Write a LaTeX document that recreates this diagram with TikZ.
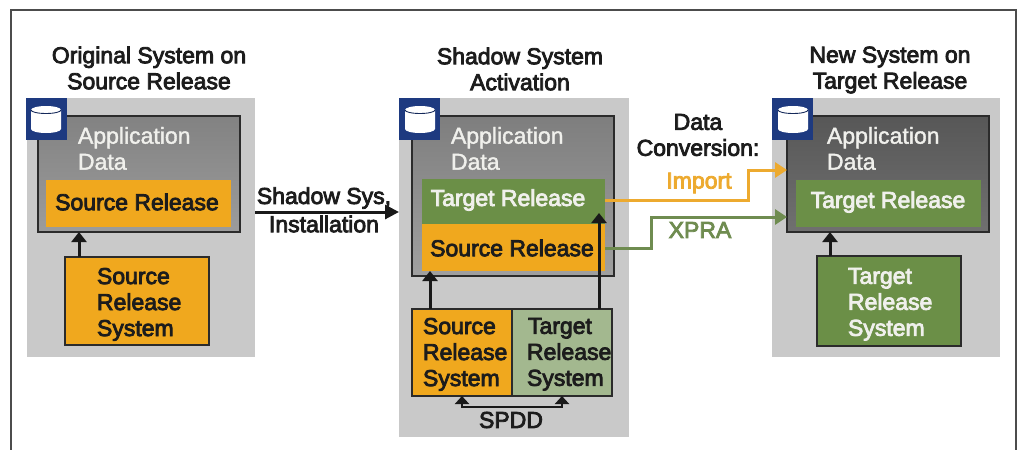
\documentclass[tikz,border=0pt]{standalone}
\usepackage{fontspec}
\setmainfont[FakeBold=3.5]{Liberation Sans}
\newfontfamily\lightfont[FakeBold=1.6]{Liberation Sans}
\usetikzlibrary{arrows.meta,calc}
\definecolor{panelgray}{HTML}{C9C9C9}
\definecolor{orangebox}{HTML}{F0A81E}
\definecolor{greenbox}{HTML}{6B8F47}
\definecolor{palegreen}{HTML}{A3B88F}
\definecolor{navyicon}{HTML}{1E3A80}
\definecolor{importline}{HTML}{EDAA2F}
\definecolor{xpraline}{HTML}{6F8C50}
\definecolor{edgedark}{HTML}{2B2B2B}
\definecolor{appA}{HTML}{9C9C9C}
\definecolor{appAt}{HTML}{828282}
\definecolor{appB}{HTML}{A0A0A0}
\definecolor{appBt}{HTML}{7E7E7E}
\definecolor{appC}{HTML}{707070}
\definecolor{appCt}{HTML}{575757}
\definecolor{softwhite}{HTML}{F0F0EC}
\definecolor{softblack}{HTML}{1C1C1C}
\newcommand{\boxat}[6][]{\node[#2,minimum width=#5-#3,minimum height=#6-#4,anchor=north west,#1] at (#3,#4) {};}
\tikzset{
  x=1pt,y=-1pt,
  every node/.style={inner sep=0pt,outer sep=0pt},
  panel/.style={fill=panelgray,draw=none,rectangle},
  iconbox/.style={fill=navyicon,draw=none,rectangle,minimum width=41,minimum height=42,anchor=north west},
  appgrayA/.style={rectangle,draw=edgedark,line width=1.6pt,top color=appAt,bottom color=appA},
  appgrayB/.style={rectangle,draw=edgedark,line width=1.6pt,top color=appBt,bottom color=appB},
  appgrayC/.style={rectangle,draw=edgedark,line width=1.6pt,top color=appCt,bottom color=appC},
  orangefill/.style={rectangle,fill=orangebox,draw=none},
  greenfill/.style={rectangle,fill=greenbox,draw=none},
  orangesys/.style={rectangle,fill=orangebox,draw=edgedark,line width=1.6pt},
  greensys/.style={rectangle,fill=greenbox,draw=edgedark,line width=1.6pt},
  palesys/.style={rectangle,fill=palegreen,draw=edgedark,line width=1.6pt},
  darklab/.style={font=\fontsize{23}{26}\selectfont,align=left,text=softblack},
  lightlab/.style={font=\fontsize{23}{26}\selectfont,align=left,text=softwhite},
  colorlab/.style={font=\fontsize{23}{26}\selectfont,align=left,text=#1},
  titlelab/.style={font=\fontsize{23}{26}\selectfont,align=center,text=softblack},
  blackarrow/.style={line width=3pt,draw=black!90,-{Triangle[length=10pt,width=15pt]}},
  colorarrow/.style={line width=3pt,draw=#1,-{Triangle[length=12pt,width=15pt]}},
}
\newcommand{\dbicon}[2]{%
  \fill[white] (#1-15,#2-9) -- (#1-15,#2+10) arc[start angle=180,end angle=360,x radius=15,y radius=-4] -- (#1+15,#2-9) arc[start angle=0,end angle=180,x radius=15,y radius=-4] -- cycle;
  \draw[navyicon!70!black,line width=0.9pt] (#1-15,#2-9) arc[start angle=180,end angle=360,x radius=15,y radius=-3.5];
}
\begin{document}
\begin{tikzpicture}
\useasboundingbox (0,0) rectangle (1021,450);
\fill[white] (0,0) rectangle (1021,450);
% frame
\draw[black!70,line width=1.6pt] (11,450) -- (11,10) -- (1016,10) -- (1016,450);
% panels
\boxat[name=pL]{panel}{27}{98}{255}{357}
\boxat[name=pM]{panel}{399}{98}{629}{437}
\boxat[name=pR]{panel}{772}{98}{1000}{357}
% app boxes
\boxat[name=appL]{appgrayA}{38}{116}{240}{232}
\boxat[name=appM]{appgrayB}{412}{116}{614}{276}
\boxat[name=appR]{appgrayC}{787}{116}{989}{232}
% icons
\node[iconbox] (iconL) at (26,98) {};
\node[iconbox] (iconM) at (399,98) {};
\node[iconbox] (iconR) at (772,98) {};
\dbicon{46}{119}
\dbicon{420}{119}
\dbicon{793}{119}
% release bars
\boxat[name=relL]{orangefill}{46}{180}{231}{227}
\boxat[name=relMt]{greenfill}{422}{179}{605}{224}
\boxat[name=relMs]{orangefill}{422}{224}{605}{271}
\boxat[name=relR]{greenfill}{796}{180}{981}{227}
% system boxes
\boxat[name=sysL]{orangesys}{65}{257}{209}{345}
\boxat[name=sysMs]{orangesys}{412}{309}{512}{396}
\boxat[name=sysMt]{palesys}{512}{309}{612}{396}
\boxat[name=sysR]{greensys}{817}{256}{961}{346}
% titles
\node[titlelab] (tL) at (149,68) {Original System on\\Source Release};
\node[titlelab] (tM) at (520,69) {Shadow System\\Activation};
\node[titlelab] (tR) at (890,70) {New System on\\Target Release};
% application data
\node[lightlab,anchor=north west] (adL) at (78,127) {\lightfont Application\\\lightfont Data};
\node[lightlab,anchor=north west] (adM) at (451,127) {\lightfont Application\\\lightfont Data};
\node[lightlab,anchor=north west] (adR) at (827,127) {\lightfont Application\\\lightfont Data};
% release labels
\node[darklab] (lrL) at (137,202) {Source Release};
\node[lightlab] (lrMt) at (508,200) {Target Release};
\node[darklab] (lrMs) at (512,248) {Source Release};
\node[lightlab] (lrR) at (888,202) {Target Release};
% system labels
\node[darklab,anchor=north west] (lsL) at (97,268) {Source\\Release\\System};
\node[darklab,anchor=north west] (lsMs) at (423,318) {Source\\Release\\System};
\node[darklab,anchor=north west] (lsMt) at (527,318) {\hspace*{1pt}Target\\Release\\System};
\node[lightlab,anchor=north west] (lsR) at (848,268) {Target\\Release\\System};
% black arrows
\draw[blackarrow] ([xshift=14]sysL.north west) -- ([xshift=14]sysL.north west |- appL.south);
\draw[blackarrow] ([xshift=13]sysR.north west) -- ([xshift=13]sysR.north west |- appR.south);
\draw[blackarrow] ([xshift=18]sysMs.north west) -- ([xshift=18]sysMs.north west |- relMs.south);
\draw[blackarrow] ([xshift=-13]sysMt.north east) -- ([xshift=-13,yshift=11]sysMt.north east |- relMt.south);
% SPDD
\coordinate (spddA) at ($(sysMs.south west)+(50,0)$);
\coordinate (spddB) at ($(sysMt.south west)+(50,0)$);
\draw[line width=2.4pt,draw=black!90,{Triangle[length=8pt,width=14pt]}-{Triangle[length=8pt,width=14pt]}] (spddA) -- ++(0,11) -- ($(spddB)+(0,11)$) -- (spddB);
\node[darklab] (spdd) at (511,420) {SPDD};
% shadow arrow
\draw[line width=3pt,draw=black!90,-{Triangle[length=14pt,width=14pt]}] (pL.east |- 0,212) -- (pM.west |- 0,212);
\node[darklab] (ss1) at (324,198) {Shadow Sys,};
\node[darklab] (ss2) at (324,224) {Installation};
% data conversion
\node[titlelab] (dc) at (698,135) {Data\\Conversion:};
\draw[colorarrow=importline] (relMt.east |- 0,200) -- (748,200) -- (748,170) -- (appR.west |- 0,170);
\draw[colorarrow=xpraline] (relMs.east |- 0,248) -- (651,248) -- (651,217) -- (appR.west |- 0,217);
\node[colorlab=importline] (imp) at (699,183) {Import};
\node[colorlab=xpraline] (xpra) at (700,230) {XPRA};
\end{tikzpicture}
\end{document}
